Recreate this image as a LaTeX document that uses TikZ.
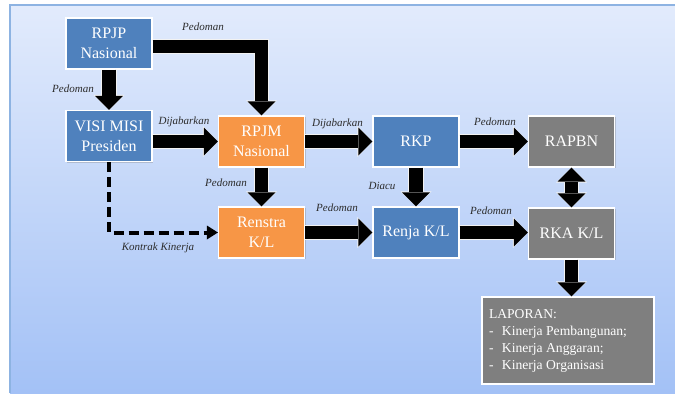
\documentclass[tikz,border=0pt]{standalone}
\usepackage{fontspec}
\setmainfont{Liberation Serif}
\usetikzlibrary{arrows.meta,calc,shadows}

\definecolor{boxblue}{HTML}{4F81BD}
\definecolor{boxorange}{HTML}{F79646}
\definecolor{boxgray}{HTML}{7F7F7F}
\definecolor{bgtop}{HTML}{E2EBFC}
\definecolor{bgbottom}{HTML}{A3C1F6}
\definecolor{bgline}{HTML}{8DB3E2}
\definecolor{labelcol}{HTML}{2C2C2C}

\tikzset{
  box/.style={draw=white, line width=1.2pt, text=white, align=center,
    minimum width=86pt, minimum height=51pt, inner sep=0pt,
    font=\fontsize{16}{20}\selectfont,
    drop shadow={opacity=0.35, shadow xshift=1.2pt, shadow yshift=-1.2pt}},
  bluebox/.style={box, fill=boxblue},
  orangebox/.style={box, fill=boxorange},
  graybox/.style={box, fill=boxgray},
  lbl/.style={text=labelcol, font=\fontsize{11}{13}\selectfont\itshape, inner sep=0pt},
  blk/.style={line width=13.5pt, line join=miter, draw=black,
    -{Triangle[width=28pt,length=14pt,line width=0pt]},
    preaction={draw=white!90!gray, line width=15.5pt,
      -{Triangle[width=31pt,length=15pt,line width=0pt]}}},
  blkboth/.style={line width=13.5pt, draw=black,
    {Triangle[width=28pt,length=14pt,line width=0pt]}-{Triangle[width=28pt,length=14pt,line width=0pt]},
    preaction={draw=white!90!gray, line width=15.5pt,
      {Triangle[width=31pt,length=15pt,line width=0pt]}-{Triangle[width=31pt,length=15pt,line width=0pt]}}},
  dashedlink/.style={line width=4pt, draw=black, dash pattern=on 10pt off 5pt,
    -{Triangle[width=14pt,length=11pt,line width=0pt]}}
}

\begin{document}
\begin{tikzpicture}[x=1pt,y=-1pt]
  % canvas and gradient panel
  \useasboundingbox (0,0) rectangle (675,396);
  \fill[white] (0,0) rectangle (675,396);
  \shade[top color=bgtop, bottom color=bgbottom] (10,5) rectangle (675,393);
  \draw[bgline, line width=1.2pt] (10,393) -- (10,5) -- (675,5);

  % planning documents
  \node[bluebox]   (rpjp)    at (109,43.5)  {RPJP\\Nasional};
  \node[bluebox]   (visi)    at (109,136)   {VISI MISI\\Presiden};
  \node[orangebox] (rpjm)    at (261.5,141.5) {RPJM\\Nasional};
  \node[bluebox]   (rkp)     at (416,141.5) {RKP};
  \node[graybox]   (rapbn)   at (571.5,141.5) {RAPBN};
  \node[orangebox] (renstra) at (261.5,232.5) {Renstra\\K/L};
  \node[bluebox]   (renja)   at (416,232.5) {Renja K/L};
  \node[graybox]   (rka)     at (571.5,233.5) {RKA K/L};
  \node[graybox, minimum width=172pt, minimum height=87pt, align=left,
        font=\fontsize{13.6}{17}\selectfont]
    (laporan) at (568,340.5)
    {\parbox{158pt}{LAPORAN:\\
      \makebox[13pt][l]{-}Kinerja Pembangunan;\\
      \makebox[13pt][l]{-}Kinerja Anggaran;\\
      \makebox[13pt][l]{-}Kinerja Organisasi}};

  % links
  \draw[blk] (rpjp.south) -- (visi.north);
  \draw[blk] ($(rpjp.east)+(0,3)$) -| (rpjm.north);
  \draw[blk] (visi.east |- rpjm.west) -- (rpjm.west);
  \draw[blk] (rpjm.east) -- (rkp.west);
  \draw[blk] (rkp.east) -- (rapbn.west);
  \draw[blk] (rpjm.south) -- (renstra.north);
  \draw[blk] (rkp.south) -- (renja.north);
  \draw[blkboth] (rapbn.south) -- (rka.north);
  \draw[blk] (renstra.east) -- (renja.west);
  \draw[blk] (renja.east) -- (renja.east -| rka.west);
  \draw[blk] (rka.south) -- (rka.south |- laporan.north);
  \draw[dashedlink] (visi.south) |- (renstra.west);

  % link labels
  \node[lbl] (l1) at (203,27)   {Pedoman};
  \node[lbl] (l2) at (73,89)    {Pedoman};
  \node[lbl] (l3) at (184,122)  {Dijabarkan};
  \node[lbl] (l4) at (337.5,123.5) {Dijabarkan};
  \node[lbl] (l5) at (495,122)  {Pedoman};
  \node[lbl] (l6) at (226,183)  {Pedoman};
  \node[lbl] (l7) at (382,186)  {Diacu};
  \node[lbl] (l8) at (337,208)  {Pedoman};
  \node[lbl] (l9) at (491,211)  {Pedoman};
  \node[lbl] (l10) at (158,248) {Kontrak Kinerja};
\end{tikzpicture}
\end{document}
